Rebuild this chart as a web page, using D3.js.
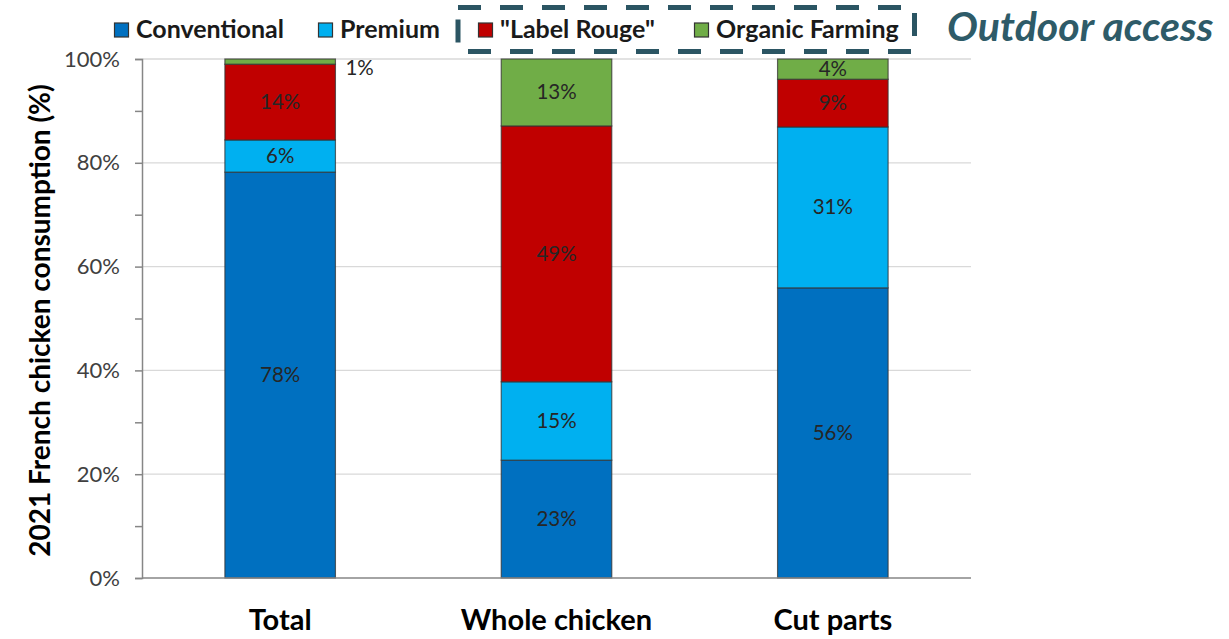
<!DOCTYPE html>
<html><head><meta charset="utf-8">
<script src="https://cdn.jsdelivr.net/npm/d3@7"></script>
<style>
body{margin:0;background:#fff;}
svg text{font-family:Lato,"Open Sans",sans-serif;}
</style></head>
<body><svg id="c" width="1229" height="639"></svg>
<script>
const categories = ["Total", "Whole chicken", "Cut parts"];
const seriesNames = ["Conventional", "Premium", "\"Label Rouge\"", "Organic Farming"];
const conventional = [78.2, 22.7, 55.9];
const premium = [6.2, 15.1, 31.0];
const labelRouge = [14.6, 49.3, 9.2];
const organic = [1.0, 12.9, 3.9];
const conventionalLabels = ["78%", "23%", "56%"];
const premiumLabels = ["6%", "15%", "31%"];
const labelRougeLabels = ["14%", "49%", "9%"];
const organicLabels = ["1%", "13%", "4%"];
const yTicks = [0, 20, 40, 60, 80, 100];
const yMinorTicks = [10, 30, 50, 70, 90];
const colors = ["#0070C0", "#00B0F0", "#C00000", "#70AD47"];

const seriesValues = [conventional, premium, labelRouge, organic];
const seriesLabels = [conventionalLabels, premiumLabels, labelRougeLabels, organicLabels];
const table = categories.map((c, i) => {
  const o = {cat: c};
  seriesNames.forEach((s, j) => o[s] = seriesValues[j][i]);
  return o;
});

const svg = d3.select("#c");
const L = 142, R = 971, T = 59, B = 578;
const x = d3.scaleBand().domain(categories).range([L, R]).paddingInner(0.6).paddingOuter(0.3);
const y = d3.scaleLinear().domain([0, 100]).range([B, T]);

// gridlines
svg.append("g").selectAll("line").data(yTicks.filter(d => d > 0)).join("line")
  .attr("x1", L).attr("x2", R).attr("y1", d => y(d)).attr("y2", d => y(d))
  .attr("stroke", "#d9d9d9").attr("stroke-width", 1.3);

// bars
const stack = d3.stack().keys(seriesNames)(table);
const gBars = svg.append("g");
stack.forEach((layer, j) => {
  gBars.append("g").selectAll("rect").data(layer).join("rect")
    .attr("x", d => x(d.data.cat))
    .attr("width", x.bandwidth())
    .attr("y", d => y(d[1]))
    .attr("height", d => y(d[0]) - y(d[1]))
    .attr("fill", colors[j])
    .attr("stroke", "#333")
    .attr("stroke-opacity", 0.75)
    .attr("stroke-width", 1.2);
});
// value labels
stack.forEach((layer, j) => {
  gBars.append("g").selectAll("text").data(layer).join("text")
    .attr("x", (d, i) => (j === 3 && i === 0) ? x(d.data.cat) + x.bandwidth() + 10 : x(d.data.cat) + x.bandwidth() / 2)
    .attr("y", (d, i) => (j === 3 && i === 0) ? y(100) + 16 : y((d[0] + d[1]) / 2) + 7)
    .attr("text-anchor", (d, i) => (j === 3 && i === 0) ? "start" : "middle")
    .attr("font-size", 20.5)
    .attr("fill", "#262626")
    .text((d, i) => seriesLabels[j][i]);
});

// y axis
const yAxis = d3.axisLeft(y).tickValues(yTicks).tickFormat(d => d + "%").tickSize(7).tickPadding(15);
const gy = svg.append("g").attr("transform", `translate(${L},0)`).call(yAxis);
gy.select(".domain").attr("stroke", "#868686").attr("stroke-width", 1.5);
gy.selectAll(".tick line").attr("stroke", "#868686").attr("stroke-width", 1.5);
gy.selectAll(".tick text").attr("font-size", 22).attr("fill", "#404040").attr("font-family", "Lato");
svg.append("g").attr("transform", `translate(${L},0)`)
  .call(d3.axisLeft(y).tickValues(yMinorTicks).tickFormat("").tickSize(7))
  .call(g => g.select(".domain").remove())
  .selectAll("line").attr("stroke", "#868686").attr("stroke-width", 1.5);

// x axis
const gx = svg.append("g").attr("transform", `translate(0,${B})`).call(d3.axisBottom(x).tickSize(0).tickPadding(31));
gx.select(".domain").attr("stroke", "#868686").attr("stroke-width", 1.5).attr("d", `M${L},0H${R}`);
gx.selectAll(".tick text").attr("font-size", 29).attr("font-weight", "bold").attr("fill", "#000").attr("font-family", "Lato");

// y title
svg.append("text").attr("transform", `translate(50,${(T + B) / 2 + 2}) rotate(-90)`)
  .attr("text-anchor", "middle").attr("font-size", 28).attr("font-weight", "bold").attr("fill", "#000")
  .text("2021 French chicken consumption (%)");

// legend
const legX = [114, 318, 478, 694];
const lg = svg.append("g");
seriesNames.forEach((s, j) => {
  lg.append("rect").attr("x", legX[j] + 0.5).attr("y", 23).attr("width", 14).attr("height", 14)
    .attr("fill", colors[j]).attr("stroke", "#333").attr("stroke-width", 1.2);
  lg.append("text").attr("x", legX[j] + 22).attr("y", 38).attr("font-size", 25).attr("font-weight", "bold")
    .attr("fill", "#1a1a1a").text(s);
});
svg.append("rect").attr("x", 458).attr("y", 7.5).attr("width", 456.5).attr("height", 44)
  .attr("fill", "none").attr("stroke", "#2b5563").attr("stroke-width", 5).attr("stroke-dasharray", "23,19");
svg.append("text").attr("x", 947).attr("y", 41).attr("font-size", 41).attr("font-weight", "bold")
  .attr("font-style", "italic").attr("fill", "#2e5b68").attr("font-family", "'Open Sans'").text("Outdoor access");
</script></body></html>
